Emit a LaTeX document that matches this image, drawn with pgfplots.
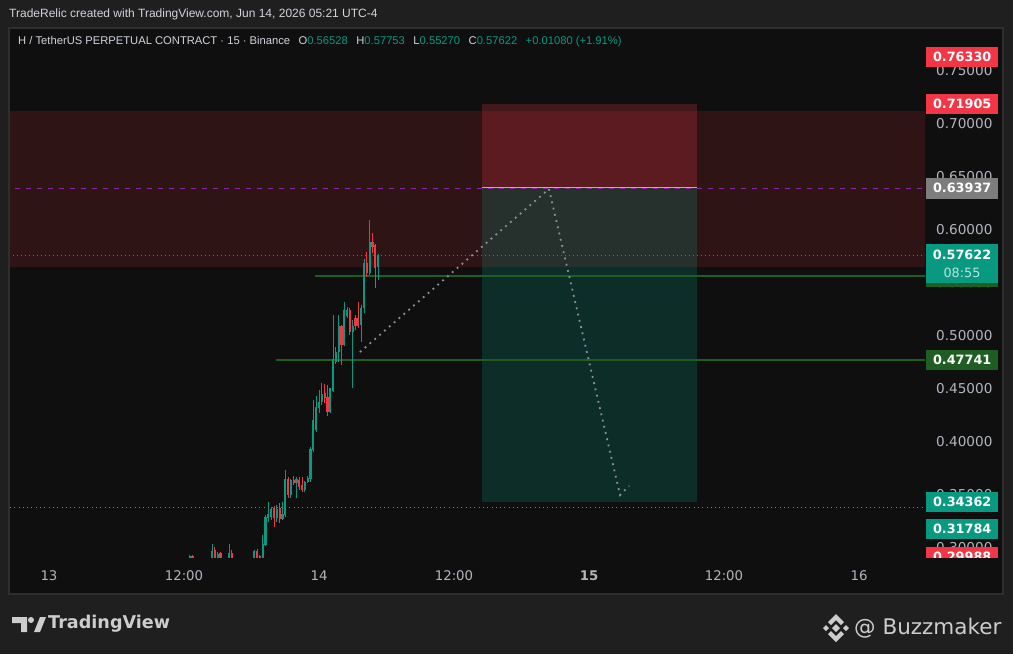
\documentclass[border=0pt]{standalone}
\usepackage{pgfplots}
\pgfplotsset{compat=1.18}
\usepackage{pgfplotstable}
\usepackage{fontspec}
\setmainfont{Liberation Sans}
\newfontfamily\dejavu{DejaVu Sans}
\definecolor{bgout}{RGB}{31,31,31}
\definecolor{pane}{RGB}{15,15,15}
\definecolor{bordc}{RGB}{46,46,46}
\definecolor{up}{RGB}{8,153,129}
\definecolor{down}{RGB}{242,54,69}
\definecolor{txt}{RGB}{209,212,220}
\definecolor{tickc}{RGB}{178,181,190}
\definecolor{dgreen}{RGB}{31,93,34}
\definecolor{purp}{RGB}{145,36,165}
\definecolor{projc}{RGB}{140,143,150}
\definecolor{graybox}{RGB}{125,125,125}
\definecolor{logoc}{RGB}{205,205,205}

\pgfplotstableread{
t o h l c
12.50 0.2887 0.2934 0.2840 0.2925
13.00 0.2850 0.2880 0.2830 0.2870
13.50 0.2855 0.2895 0.2850 0.2885
14.00 0.2870 0.2905 0.2865 0.2895
14.25 0.2895 0.2910 0.2880 0.2900
14.50 0.2840 0.3038 0.2830 0.2972
15.00 0.2887 0.2962 0.2830 0.2944
15.75 0.2860 0.2900 0.2850 0.2890
16.00 0.2868 0.3038 0.2830 0.2953
16.75 0.2845 0.2885 0.2835 0.2875
17.25 0.2850 0.2895 0.2845 0.2880
17.50 0.2880 0.2905 0.2860 0.2895
18.00 0.2875 0.2900 0.2860 0.2890
18.25 0.2868 0.2981 0.2830 0.2972
19.00 0.2840 0.3123 0.2830 0.3038
19.25 0.3028 0.3312 0.3019 0.3293
19.50 0.3283 0.3434 0.3245 0.3321
19.75 0.3293 0.3387 0.3264 0.3368
20.25 0.3283 0.3406 0.3245 0.3368
20.75 0.3274 0.3434 0.3264 0.3321
21.00 0.3312 0.3736 0.3293 0.3651
21.50 0.3500 0.3651 0.3472 0.3642
22.00 0.3613 0.3670 0.3472 0.3651
22.75 0.3547 0.3632 0.3528 0.3623
23.00 0.3623 0.3679 0.3613 0.3661
23.25 0.3651 0.3953 0.3623 0.3934
23.50 0.3925 0.4396 0.3906 0.4208
23.75 0.4113 0.4434 0.4095 0.4330
24.00 0.4321 0.4491 0.4274 0.4378
24.25 0.4378 0.4557 0.4349 0.4453
25.00 0.4283 0.4510 0.4274 0.4510
25.25 0.4481 0.5198 0.4472 0.4783
25.50 0.4755 0.4896 0.4736 0.4849
25.75 0.4849 0.5198 0.4755 0.5095
26.25 0.4915 0.5321 0.4906 0.5245
26.50 0.5189 0.5274 0.5170 0.5245
27.00 0.5038 0.5151 0.4510 0.5095
27.75 0.5104 0.5293 0.4944 0.5264
28.00 0.5264 0.5727 0.5217 0.5689
28.50 0.5595 0.6095 0.5576 0.5887
29.25 0.56528 0.57753 0.55270 0.57622
}\uptab

\pgfplotstableread{
t o h l c
12.75 0.2925 0.2934 0.2868 0.2887
13.25 0.2870 0.2885 0.2845 0.2855
13.75 0.2885 0.2900 0.2860 0.2870
14.75 0.2981 0.3010 0.2830 0.2868
15.25 0.2953 0.2962 0.2840 0.2887
15.50 0.2885 0.2905 0.2840 0.2860
16.25 0.2953 0.2981 0.2840 0.2868
16.50 0.2870 0.2880 0.2830 0.2845
17.00 0.2875 0.2890 0.2840 0.2850
17.75 0.2895 0.2910 0.2865 0.2875
18.50 0.2972 0.2991 0.2840 0.2868
18.75 0.2925 0.2934 0.2868 0.2887
20.00 0.3378 0.3396 0.3198 0.3283
20.50 0.3378 0.3425 0.3236 0.3274
21.25 0.3651 0.3670 0.3472 0.3500
21.75 0.3642 0.3679 0.3595 0.3613
22.25 0.3642 0.3670 0.3547 0.3576
22.50 0.3595 0.3670 0.3528 0.3547
24.50 0.4462 0.4547 0.4368 0.4415
24.75 0.4425 0.4538 0.4245 0.4283
26.00 0.5095 0.5104 0.4727 0.4915
26.75 0.5245 0.5264 0.5010 0.5038
27.25 0.5170 0.5198 0.5057 0.5095
27.50 0.5170 0.5321 0.5076 0.5095
28.25 0.5689 0.5793 0.5557 0.5595
28.75 0.5887 0.5972 0.5783 0.5840
29.00 0.5859 0.5868 0.5453 0.5642
}\downtab

\begin{document}
\begin{tikzpicture}[x=1pt,y=1pt]
% backgrounds
\fill[bgout] (0,0) rectangle (1013,-654);
\useasboundingbox (0,0) rectangle (1013,-654);
\fill[pane] (9,-28) rectangle (1003,-594);
\draw[bordc, line width=1.5pt] (9,-28) rectangle (1003,-594);

\begin{axis}[
  at={(10pt,-557pt)}, anchor=south west,
  scale only axis, width=915pt, height=528pt,
  xmin=-3.4667, xmax=77.8667,
  ymin=0.29153, ymax=0.78964,
  axis line style={draw=none},
  major tick length=0pt, tick style={draw=none},
  xtick={0,12,24,36,48,60,72},
  xticklabels={13,12:00,14,12:00,\textbf{15},12:00,16},
  xticklabel style={font=\dejavu\fontsize{13.3}{15}\selectfont, text=tickc, anchor=base, yshift=-23pt},
  ytick={0.30,0.35,0.40,0.45,0.50,0.55,0.60,0.65,0.70,0.75},
  yticklabel pos=right,
  scaled y ticks=false,
  yticklabel style={font=\dejavu\fontsize{13.6}{15}\selectfont, text=tickc, anchor=west, inner sep=0pt, xshift=11pt,
     /pgf/number format/.cd, fixed, fixed zerofill, precision=5, assume math mode=true},
  clip=true,
]
% supply/resistance zone
\addplot[draw=none, fill=down, fill opacity=0.14, forget plot] coordinates {(-5,0.5654) (80,0.5654) (80,0.7123) (-5,0.7123)} -- cycle;
% position tool
\addplot[draw=none, fill=down, fill opacity=0.23, forget plot] coordinates {(38.49,0.63937) (57.60,0.63937) (57.60,0.71905) (38.49,0.71905)} -- cycle;
\addplot[draw=none, fill=up, fill opacity=0.22, forget plot] coordinates {(38.49,0.34362) (57.60,0.34362) (57.60,0.63937) (38.49,0.63937)} -- cycle;

% horizontal lines
\addplot[dgreen, line width=2pt, forget plot] coordinates {(23.64,0.5566) (80,0.5566)};
\addplot[dgreen, line width=2pt, forget plot] coordinates {(20.18,0.47741) (80,0.47741)};
\addplot[gray, line width=1pt, dash pattern=on 1pt off 3.3pt, forget plot] coordinates {(-5,0.3378) (80,0.3378)};
\addplot[up, line width=1pt, dash pattern=on 1pt off 3pt, forget plot] coordinates {(-5,0.57622) (80,0.57622)};
\addplot[purp, line width=1.2pt, dash pattern=on 5pt off 6pt, forget plot] coordinates {(-5,0.63937) (80,0.63937)};
\addplot[tickc, line width=1pt, forget plot] coordinates {(38.49,0.6399) (57.60,0.6399)};

% candles: wicks
\addplot[draw=none, mark=none, forget plot, error bars/.cd, y dir=plus, y explicit, error mark=none, error bar style={draw=up, line width=1pt}]
  table[x=t, y=l, y error plus expr=\thisrow{h}-\thisrow{l}] {\uptab};
\addplot[draw=none, mark=none, forget plot, error bars/.cd, y dir=plus, y explicit, error mark=none, error bar style={draw=down, line width=1pt}]
  table[x=t, y=l, y error plus expr=\thisrow{h}-\thisrow{l}] {\downtab};
% candles: bodies
\addplot[draw=none, mark=none, forget plot, error bars/.cd, y dir=plus, y explicit, error mark=none, error bar style={draw=up, line width=2.2pt}]
  table[x=t, y=o, y error plus expr={max(\thisrow{c}-\thisrow{o},0.001)}] {\uptab};
\addplot[draw=none, mark=none, forget plot, error bars/.cd, y dir=plus, y explicit, error mark=none, error bar style={draw=down, line width=2.2pt}]
  table[x=t, y=c, y error plus expr={max(\thisrow{o}-\thisrow{c},0.001)}] {\downtab};

% projection path
\addplot[projc, line width=1.8pt, dash pattern=on 1.8pt off 4.6pt, forget plot] coordinates {(27.64,0.4849) (44.44,0.6387) (50.76,0.3500) (51.56,0.3585)};

% anchors for price labels
\coordinate (pA) at (axis cs:77.8667,0.76330);
\coordinate (pB) at (axis cs:77.8667,0.71905);
\coordinate (pC) at (axis cs:77.8667,0.63937);
\coordinate (pD) at (axis cs:77.8667,0.57622);
\coordinate (pE) at (axis cs:77.8667,0.5566);
\coordinate (pF) at (axis cs:77.8667,0.47741);
\coordinate (pG) at (axis cs:77.8667,0.34362);
\coordinate (pH) at (axis cs:77.8667,0.31784);
\coordinate (pI) at (axis cs:77.8667,0.29988);
\coordinate (BR) at (rel axis cs:1,0);
\end{axis}

% price labels
\tikzset{plab/.style={anchor=west, minimum width=72pt, minimum height=20.5pt, inner sep=0pt, text=white, font=\dejavu\bfseries\fontsize{12.8}{14}\selectfont}}
\node[plab, fill=down] at ([xshift=1pt]pA) {0.76330};
\node[plab, fill=down] at ([xshift=1pt]pB) {0.71905};
\node[plab, fill=graybox] at ([xshift=1pt]pC) {0.63937};
\fill[dgreen] ([xshift=1pt,yshift=10.5pt]pE) rectangle ([xshift=73pt,yshift=-10.5pt]pE);
\fill[up] ([xshift=1pt,yshift=11pt]pD) rectangle ([xshift=73pt,yshift=-28pt]pD);
\node[anchor=center, text=white, font=\dejavu\bfseries\fontsize{12.8}{14}\selectfont] at ([xshift=37pt]pD) {0.57622};
\node[anchor=center, text=white!72!up, font=\dejavu\fontsize{12.8}{14}\selectfont] at ([xshift=37pt,yshift=-18pt]pD) {08:55};
\node[plab, fill=dgreen] at ([xshift=1pt]pF) {0.47741};
\node[plab, fill=up] at ([xshift=1pt]pG) {0.34362};
\node[plab, fill=up] at ([xshift=1pt]pH) {0.31784};
\begin{scope}
\clip (BR) rectangle ([xshift=80pt,yshift=40pt]BR);
\node[plab, fill=down] at ([xshift=1pt,yshift=-9pt]pI) {0.29988};
\end{scope}

% header
\node[anchor=west, inner sep=0pt, text=txt, font=\fontsize{12}{14}\selectfont] at (9,-14.5) {TradeRelic created with TradingView.com, Jun 14, 2026 05:21 UTC-4};
\node[anchor=west, inner sep=0pt, text=txt, font=\fontsize{11.2}{13}\selectfont] at (18,-42) {H / TetherUS PERPETUAL CONTRACT · 15 · Binance\hspace{8.5pt}O\textcolor{up}{0.56528}\hspace{8.5pt}H\textcolor{up}{0.57753}\hspace{8.5pt}L\textcolor{up}{0.55270}\hspace{8.5pt}C\textcolor{up}{0.57622}\hspace{8.5pt}\textcolor{up}{+0.01080 (+1.91\%)}};

% footer: TradingView logo
\fill[logoc] (12,-617) -- (27,-617) -- (27,-632) -- (21,-632) -- (21,-623) -- (12,-623) -- cycle;
\fill[logoc] (31,-620) circle (3);
\fill[logoc] (34,-632) -- (40,-617) -- (46,-617) -- (40,-632) -- cycle;
\node[anchor=west, inner sep=0pt, text=logoc, font=\dejavu\bfseries\fontsize{17.6}{19}\selectfont] at (48,-624) {TradingView};

% footer: Binance-like logo and name
\fill[logoc] (836,-614) -- (844,-622) -- (841,-625) -- (836,-620) -- (831,-625) -- (828,-622) -- cycle;
\fill[logoc] (836,-642) -- (844,-634) -- (841,-631) -- (836,-636) -- (831,-631) -- (828,-634) -- cycle;
\fill[logoc] (836,-624) -- (840,-628) -- (836,-632) -- (832,-628) -- cycle;
\fill[logoc] (826,-625) -- (829,-628) -- (826,-631) -- (823,-628) -- cycle;
\fill[logoc] (846,-625) -- (849,-628) -- (846,-631) -- (843,-628) -- cycle;
\node[anchor=west, inner sep=0pt, text=logoc, font=\dejavu\fontsize{21.5}{24}\selectfont] at (854,-628) {@ Buzzmaker};
\end{tikzpicture}
\end{document}
